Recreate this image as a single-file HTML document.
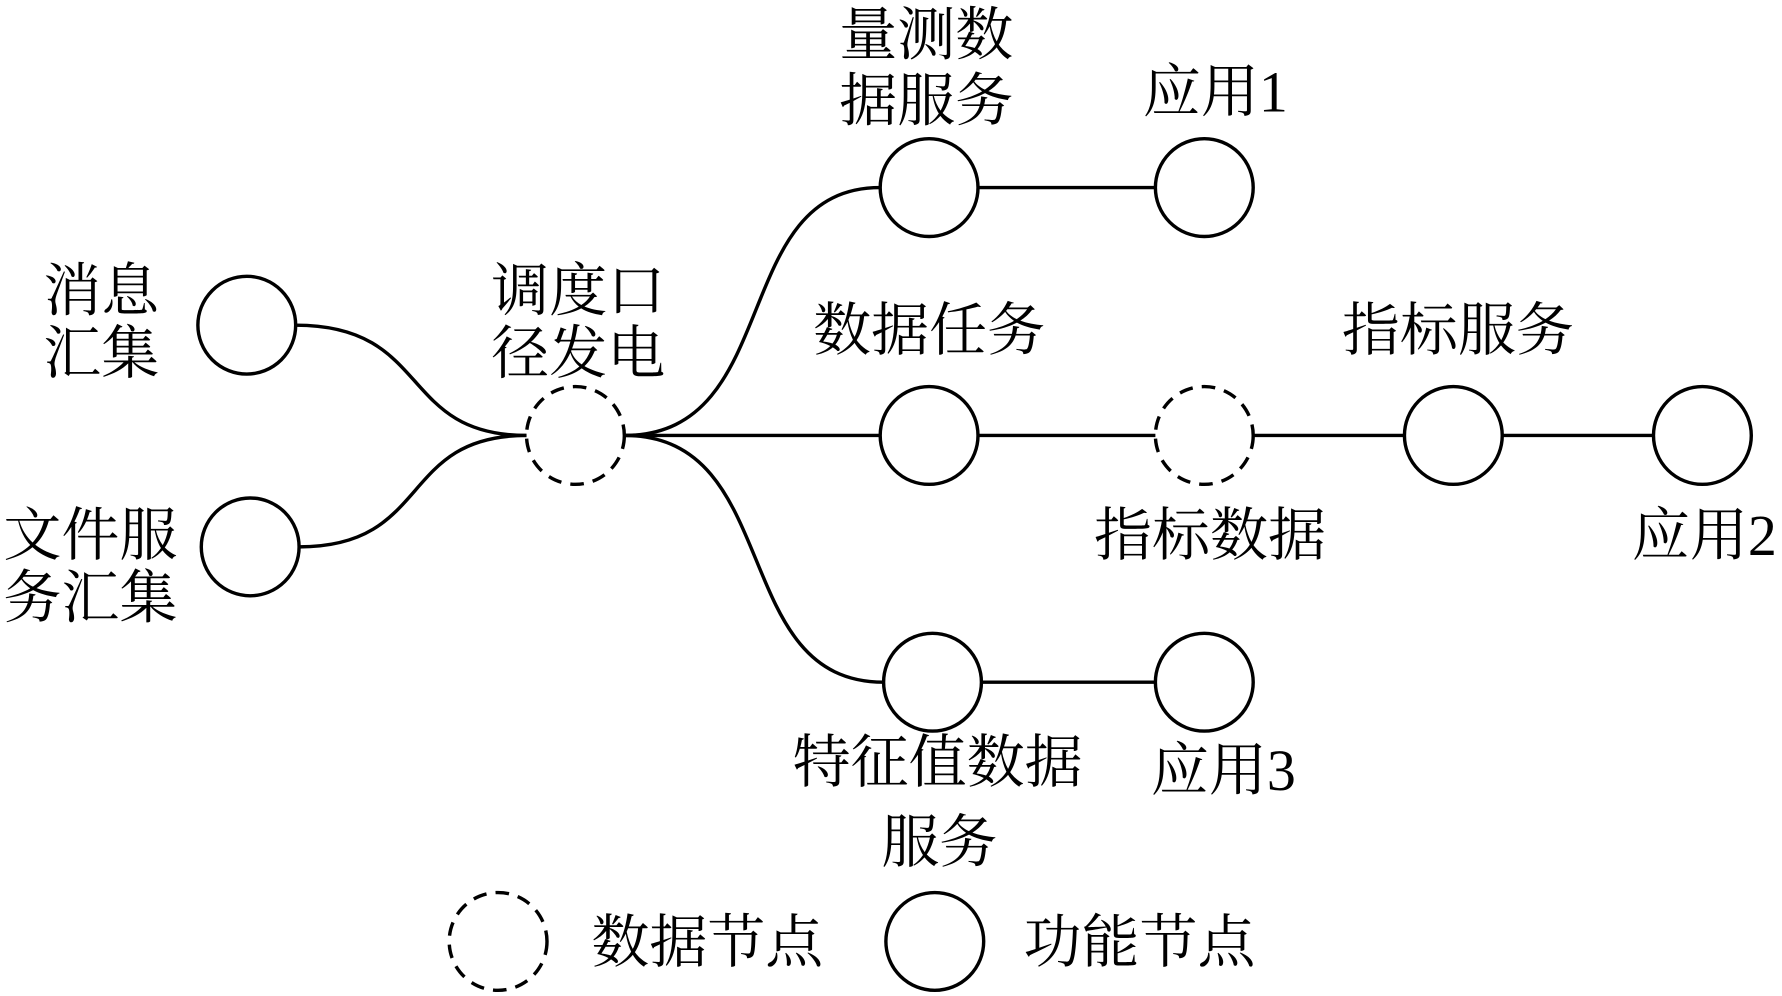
<!DOCTYPE html>
<html><head><meta charset="utf-8"><style>
html,body{margin:0;padding:0;background:#fff;}
svg{display:block;}
text{font-family:"Liberation Serif","Noto Serif CJK SC","Noto Sans CJK SC",serif;font-size:51px;fill:#000;}
</style></head><body>
<svg width="1782" height="996" viewBox="0 0 1567 876" preserveAspectRatio="none" xmlns="http://www.w3.org/2000/svg">
<g fill="none" stroke="#000" stroke-width="3">
<path d="M260,286 C380,286 350,383 463,383"/>
<path d="M263,481 C380,481 350,383 463,383"/>
<path d="M549,383 C690,383 640,165 774,165"/>
<path d="M549,383 C690,383 640,600 777,600"/>
<line x1="549" y1="383" x2="774" y2="383"/>
<line x1="860" y1="165" x2="1016" y2="165"/>
<line x1="860" y1="383" x2="1016" y2="383"/>
<line x1="1102" y1="383" x2="1235" y2="383"/>
<line x1="1321" y1="383" x2="1454" y2="383"/>
<line x1="863" y1="600" x2="1016" y2="600"/>
<circle cx="217" cy="286" r="43"/>
<circle cx="220" cy="481" r="43"/>
<circle cx="817" cy="165" r="43"/>
<circle cx="1059" cy="165" r="43"/>
<circle cx="817" cy="383" r="43"/>
<circle cx="1278" cy="383" r="43"/>
<circle cx="1497" cy="383" r="43"/>
<circle cx="820" cy="600" r="43"/>
<circle cx="1059" cy="600" r="43"/>
<circle cx="822" cy="828" r="43"/>
<g stroke-dasharray="12,8">
<circle cx="506" cy="383" r="43"/>
<circle cx="1059" cy="383" r="43"/>
<circle cx="438" cy="828" r="43"/>
</g>
</g>
<text x="38" y="273">消息</text>
<text x="38" y="328">汇集</text>
<text x="3" y="488">文件服</text>
<text x="3" y="543">务汇集</text>
<text x="432" y="273">调度口</text>
<text x="432" y="328">径发电</text>
<text x="738" y="48">量测数</text>
<text x="738" y="106">据服务</text>
<text x="1005" y="98">应用1</text>
<text x="715" y="308">数据任务</text>
<text x="962" y="488">指标数据</text>
<text x="1180" y="308">指标服务</text>
<text x="1435" y="488">应用2</text>
<text x="697" y="688">特征值数据</text>
<text x="775" y="758">服务</text>
<text x="1012" y="695">应用3</text>
<text x="520" y="846">数据节点</text>
<text x="900" y="846">功能节点</text>
</svg>
</body></html>
